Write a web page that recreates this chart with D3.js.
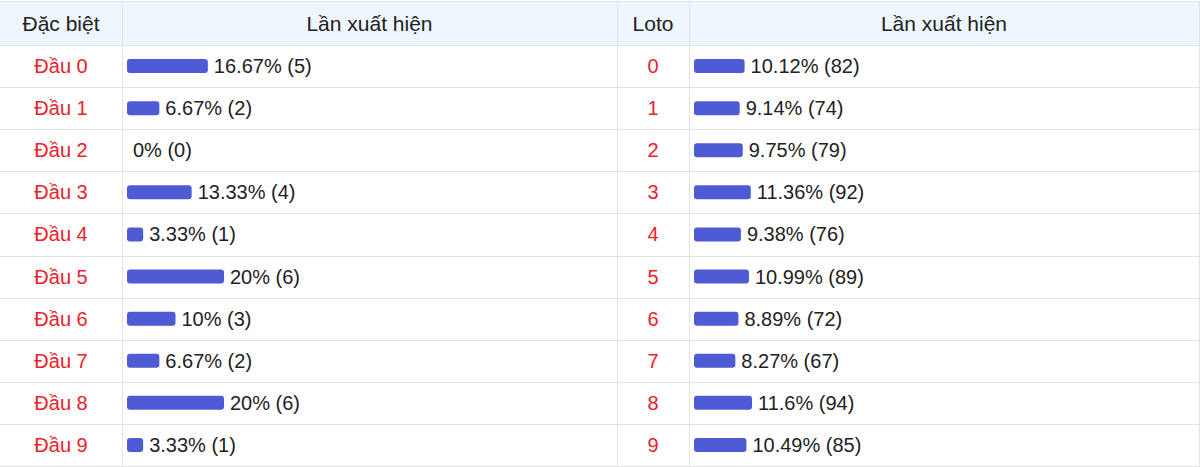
<!DOCTYPE html>
<html>
<head>
<meta charset="utf-8">
<script src="https://cdn.jsdelivr.net/npm/d3@7"></script>
<style>
  html, body { margin: 0; padding: 0; background: #fff; }
  svg { display: block; font-family: "Liberation Sans", Arial, sans-serif; }
</style>
</head>
<body>
<svg id="chart" width="1200" height="467"></svg>
<script>
const headers = ["Đặc biệt", "Lần xuất hiện", "Loto", "Lần xuất hiện"];
const dbLabels = ["Đầu 0", "Đầu 1", "Đầu 2", "Đầu 3", "Đầu 4", "Đầu 5", "Đầu 6", "Đầu 7", "Đầu 8", "Đầu 9"];
const dbPct = [16.67, 6.67, 0, 13.33, 3.33, 20, 10, 6.67, 20, 3.33];
const dbCount = [5, 2, 0, 4, 1, 6, 3, 2, 6, 1];
const lotoLabels = ["0", "1", "2", "3", "4", "5", "6", "7", "8", "9"];
const lotoPct = [10.12, 9.14, 9.75, 11.36, 9.38, 10.99, 8.89, 8.27, 11.6, 10.49];
const lotoCount = [82, 74, 79, 92, 76, 89, 72, 67, 94, 85];

const svg = d3.select("#chart");
const colX = [0, 122, 617, 689, 1199];
const headTop = 1, headBottom = 45, tableBottom = 466;
const border = "#e3e3e3";

// header background
svg.append("rect").attr("x", 0).attr("y", headTop).attr("width", 1199).attr("height", headBottom - headTop)
  .attr("fill", "#eef6fe");

const y = d3.scaleBand().domain(d3.range(dbLabels.length)).range([headBottom, tableBottom]);

const xDb = d3.scaleLinear().domain([0, 100]).range([0, (colX[2] - colX[1]) - 10]);
const xLoto = d3.scaleLinear().domain([0, 100]).range([0, (colX[4] - colX[3]) - 10]);

// header text
svg.selectAll("text.head").data(headers).join("text")
  .attr("class", "head")
  .attr("x", (d, i) => (colX[i] + colX[i + 1]) / 2)
  .attr("y", (headTop + headBottom) / 2 + 7.5)
  .attr("text-anchor", "middle")
  .attr("font-size", 21)
  .attr("fill", "#222")
  .text(d => d);

function drawSide(labels, pct, count, x, c0, c1) {
  const g = svg.append("g");
  g.selectAll("text.lab").data(labels).join("text")
    .attr("x", (colX[c0] + colX[c0 + 1]) / 2)
    .attr("y", (d, i) => y(i) + y.bandwidth() / 2 + 7)
    .attr("text-anchor", "middle")
    .attr("font-size", 20)
    .attr("fill", "#ec2229")
    .text(d => d);
  const bx = colX[c1] + 5;
  g.selectAll("rect.bar").data(pct).join("rect")
    .attr("x", bx)
    .attr("y", (d, i) => y(i) + y.bandwidth() / 2 - 7)
    .attr("width", d => x(d))
    .attr("height", 14)
    .attr("rx", 3)
    .attr("fill", "#4f5bd5");
  g.selectAll("text.val").data(pct).join("text")
    .attr("x", d => bx + x(d) + 6)
    .attr("y", (d, i) => y(i) + y.bandwidth() / 2 + 7)
    .attr("font-size", 20)
    .attr("fill", "#222")
    .text((d, i) => `${d}% (${count[i]})`);
}
drawSide(dbLabels, dbPct, dbCount, xDb, 0, 1);
drawSide(lotoLabels, lotoPct, lotoCount, xLoto, 2, 3);

// grid lines
const hLines = [headTop, headBottom].concat(d3.range(1, dbLabels.length + 1).map(i => y(i - 1) + y.bandwidth()));
svg.selectAll("line.h").data(hLines).join("line")
  .attr("x1", 0).attr("x2", 1200)
  .attr("y1", d => Math.round(d) + 0.5).attr("y2", d => Math.round(d) + 0.5)
  .attr("stroke", border).attr("stroke-width", 1);
svg.selectAll("line.v").data(colX.slice(1)).join("line")
  .attr("x1", d => d + 0.5).attr("x2", d => d + 0.5)
  .attr("y1", headTop).attr("y2", tableBottom)
  .attr("stroke", border).attr("stroke-width", 1);
</script>
</body>
</html>
